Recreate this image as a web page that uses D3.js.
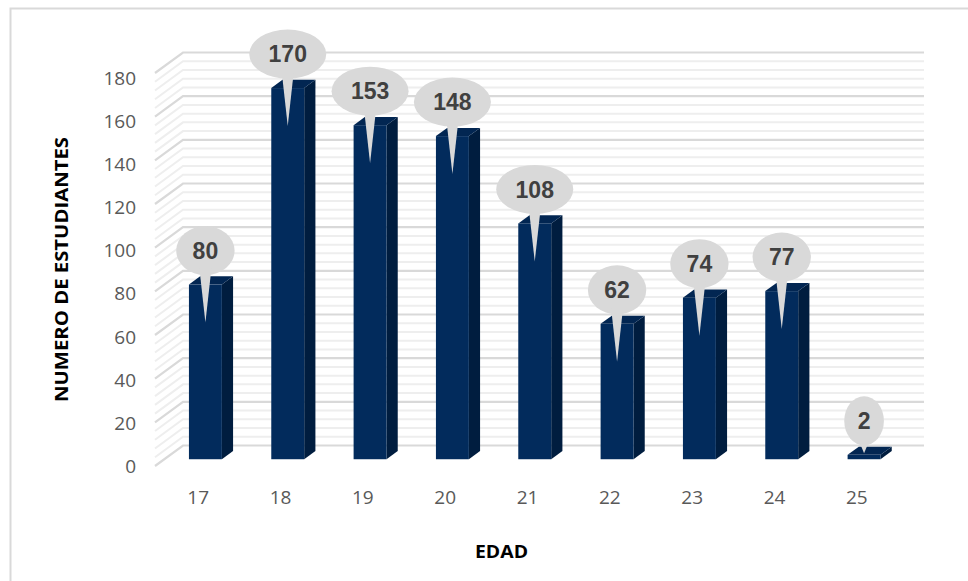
<!DOCTYPE html>
<html>
<head>
<meta charset="utf-8">
<script src="https://cdn.jsdelivr.net/npm/d3@7"></script>
<style>
  html, body { margin: 0; padding: 0; background: #ffffff; }
  svg { display: block; }
</style>
</head>
<body>
<svg id="chart" width="968" height="581"></svg>
<script>
// Students per age
const ages = ["17", "18", "19", "20", "21", "22", "23", "24", "25"];
const students = [80, 170, 153, 148, 108, 62, 74, 77, 2];
const yTicks = [0, 20, 40, 60, 80, 100, 120, 140, 160, 180];
const minorStep = 4;
const yTitle = "NUMERO DE ESTUDIANTES";
const xTitle = "EDAD";

const svg = d3.select("#chart");

// Pseudo-3D projection: depth 0 = front plane, 1 = back wall
const DX = 28, DY = -20.5;
const D0 = 0.33, D1 = 0.73; // bar front / back depth

const x = d3.scaleBand().domain(ages).range([155, 896]);
const y = d3.scaleLinear().domain([0, 180]).range([466, 73]);
const yLabel = d3.scaleLinear().domain([0, 180]).range([466, 78]);

// Chart frame
svg.append("rect")
  .attr("x", 10.5).attr("y", 8.5)
  .attr("width", 1000).attr("height", 600)
  .attr("fill", "none").attr("stroke", "#d9d9d9").attr("stroke-width", 2);

// Gridlines: side wall diagonals + back wall horizontals
const gridVals = d3.range(0, 180 + 0.001, minorStep);
const grid = svg.append("g");
const gridPath = v => {
  const yf = y(v), yb = y(v) + DY;
  return `M${155},${yf}L${155 + DX},${yb}L${896 + DX},${yb}`;
};
gridVals.filter(v => v % 20 !== 0).forEach(v => {
  grid.append("path").attr("d", gridPath(v))
    .attr("fill", "none").attr("stroke", "#eeeeee").attr("stroke-width", 2);
});
gridVals.filter(v => v % 20 === 0).forEach(v => {
  grid.append("path").attr("d", gridPath(v))
    .attr("fill", "none").attr("stroke", "#d9d9d9").attr("stroke-width", 2.2);
});

// Bars
const bw = x.bandwidth() * 0.4;
const ddx = DX * (D1 - D0), ddy = DY * (D1 - D0);
const bars = svg.append("g");
ages.forEach((a, i) => {
  const v = students[i];
  const x0 = x(a) + (x.bandwidth() - bw) / 2 + DX * D0;
  const x1 = x0 + bw;
  const yTop = y(v) + DY * D0;
  const yBase = y(0) + DY * D0;
  // side face
  bars.append("path")
    .attr("d", `M${x1},${yTop}L${x1 + ddx},${yTop + ddy}L${x1 + ddx},${yBase + ddy}L${x1},${yBase}Z`)
    .attr("fill", "#001d3f");
  // top face
  bars.append("path")
    .attr("d", `M${x0},${yTop}L${x1},${yTop}L${x1 + ddx},${yTop + ddy}L${x0 + ddx},${yTop + ddy}Z`)
    .attr("fill", "#022652");
  // front face
  bars.append("rect")
    .attr("x", x0).attr("y", yTop)
    .attr("width", bw).attr("height", yBase - yTop)
    .attr("fill", "#022b5c");
});

// Callout labels
const callouts = svg.append("g");
ages.forEach((a, i) => {
  const v = students[i];
  const cx = x(a) + x.bandwidth() / 2 + DX * D0;
  const yTop = y(v) + DY * D0;
  const yBase = y(0) + DY * D0;
  const cy = yTop - 34;
  const tip = Math.min(yTop + 38, yBase - 6);
  const g = callouts.append("g");
  const ell = g.append("ellipse").attr("cx", cx).attr("cy", cy).attr("ry", 24.5).attr("fill", "#d9d9d9");
  g.append("path")
    .attr("d", `M${cx - 6},${cy + 18}L${cx + 6},${cy + 18}L${cx},${tip}Z`)
    .attr("fill", "#d9d9d9");
  const t = g.append("text")
    .attr("x", cx).attr("y", cy + 8.3)
    .attr("text-anchor", "middle")
    .attr("font-family", "Liberation Sans, Arial, sans-serif")
    .attr("font-weight", "bold").attr("font-size", 23)
    .attr("fill", "#404040")
    .text(v);
  const tw = t.node().getComputedTextLength();
  ell.attr("rx", 0.73 * tw + 10.5);
});

// Y tick labels
svg.append("g").selectAll("text").data(yTicks).join("text")
  .attr("x", 136).attr("y", d => yLabel(d))
  .attr("dy", "0.36em")
  .attr("text-anchor", "end")
  .attr("font-family", "Open Sans, sans-serif").attr("font-size", 19)
  .attr("fill", "#595959")
  .text(d => d);

// X tick labels
svg.append("g").selectAll("text").data(ages).join("text")
  .attr("x", d => x(d) + x.bandwidth() / 2 + 2).attr("y", 497)
  .attr("dy", "0.36em")
  .attr("text-anchor", "middle")
  .attr("font-family", "Open Sans, sans-serif").attr("font-size", 19)
  .attr("fill", "#595959")
  .text(d => d);

// Axis titles
svg.append("text")
  .attr("transform", "translate(68,269.5) rotate(-90)")
  .attr("text-anchor", "middle")
  .attr("font-family", "Open Sans, sans-serif").attr("font-weight", "bold")
  .attr("font-size", 18.5).attr("fill", "#000000")
  .attr("textLength", 265).attr("lengthAdjust", "spacingAndGlyphs")
  .text(yTitle);

svg.append("text")
  .attr("x", 501.5).attr("y", 558.3)
  .attr("text-anchor", "middle")
  .attr("font-family", "Open Sans, sans-serif").attr("font-weight", "bold")
  .attr("font-size", 18.5).attr("fill", "#000000")
  .attr("textLength", 53).attr("lengthAdjust", "spacingAndGlyphs")
  .text(xTitle);
</script>
</body>
</html>
